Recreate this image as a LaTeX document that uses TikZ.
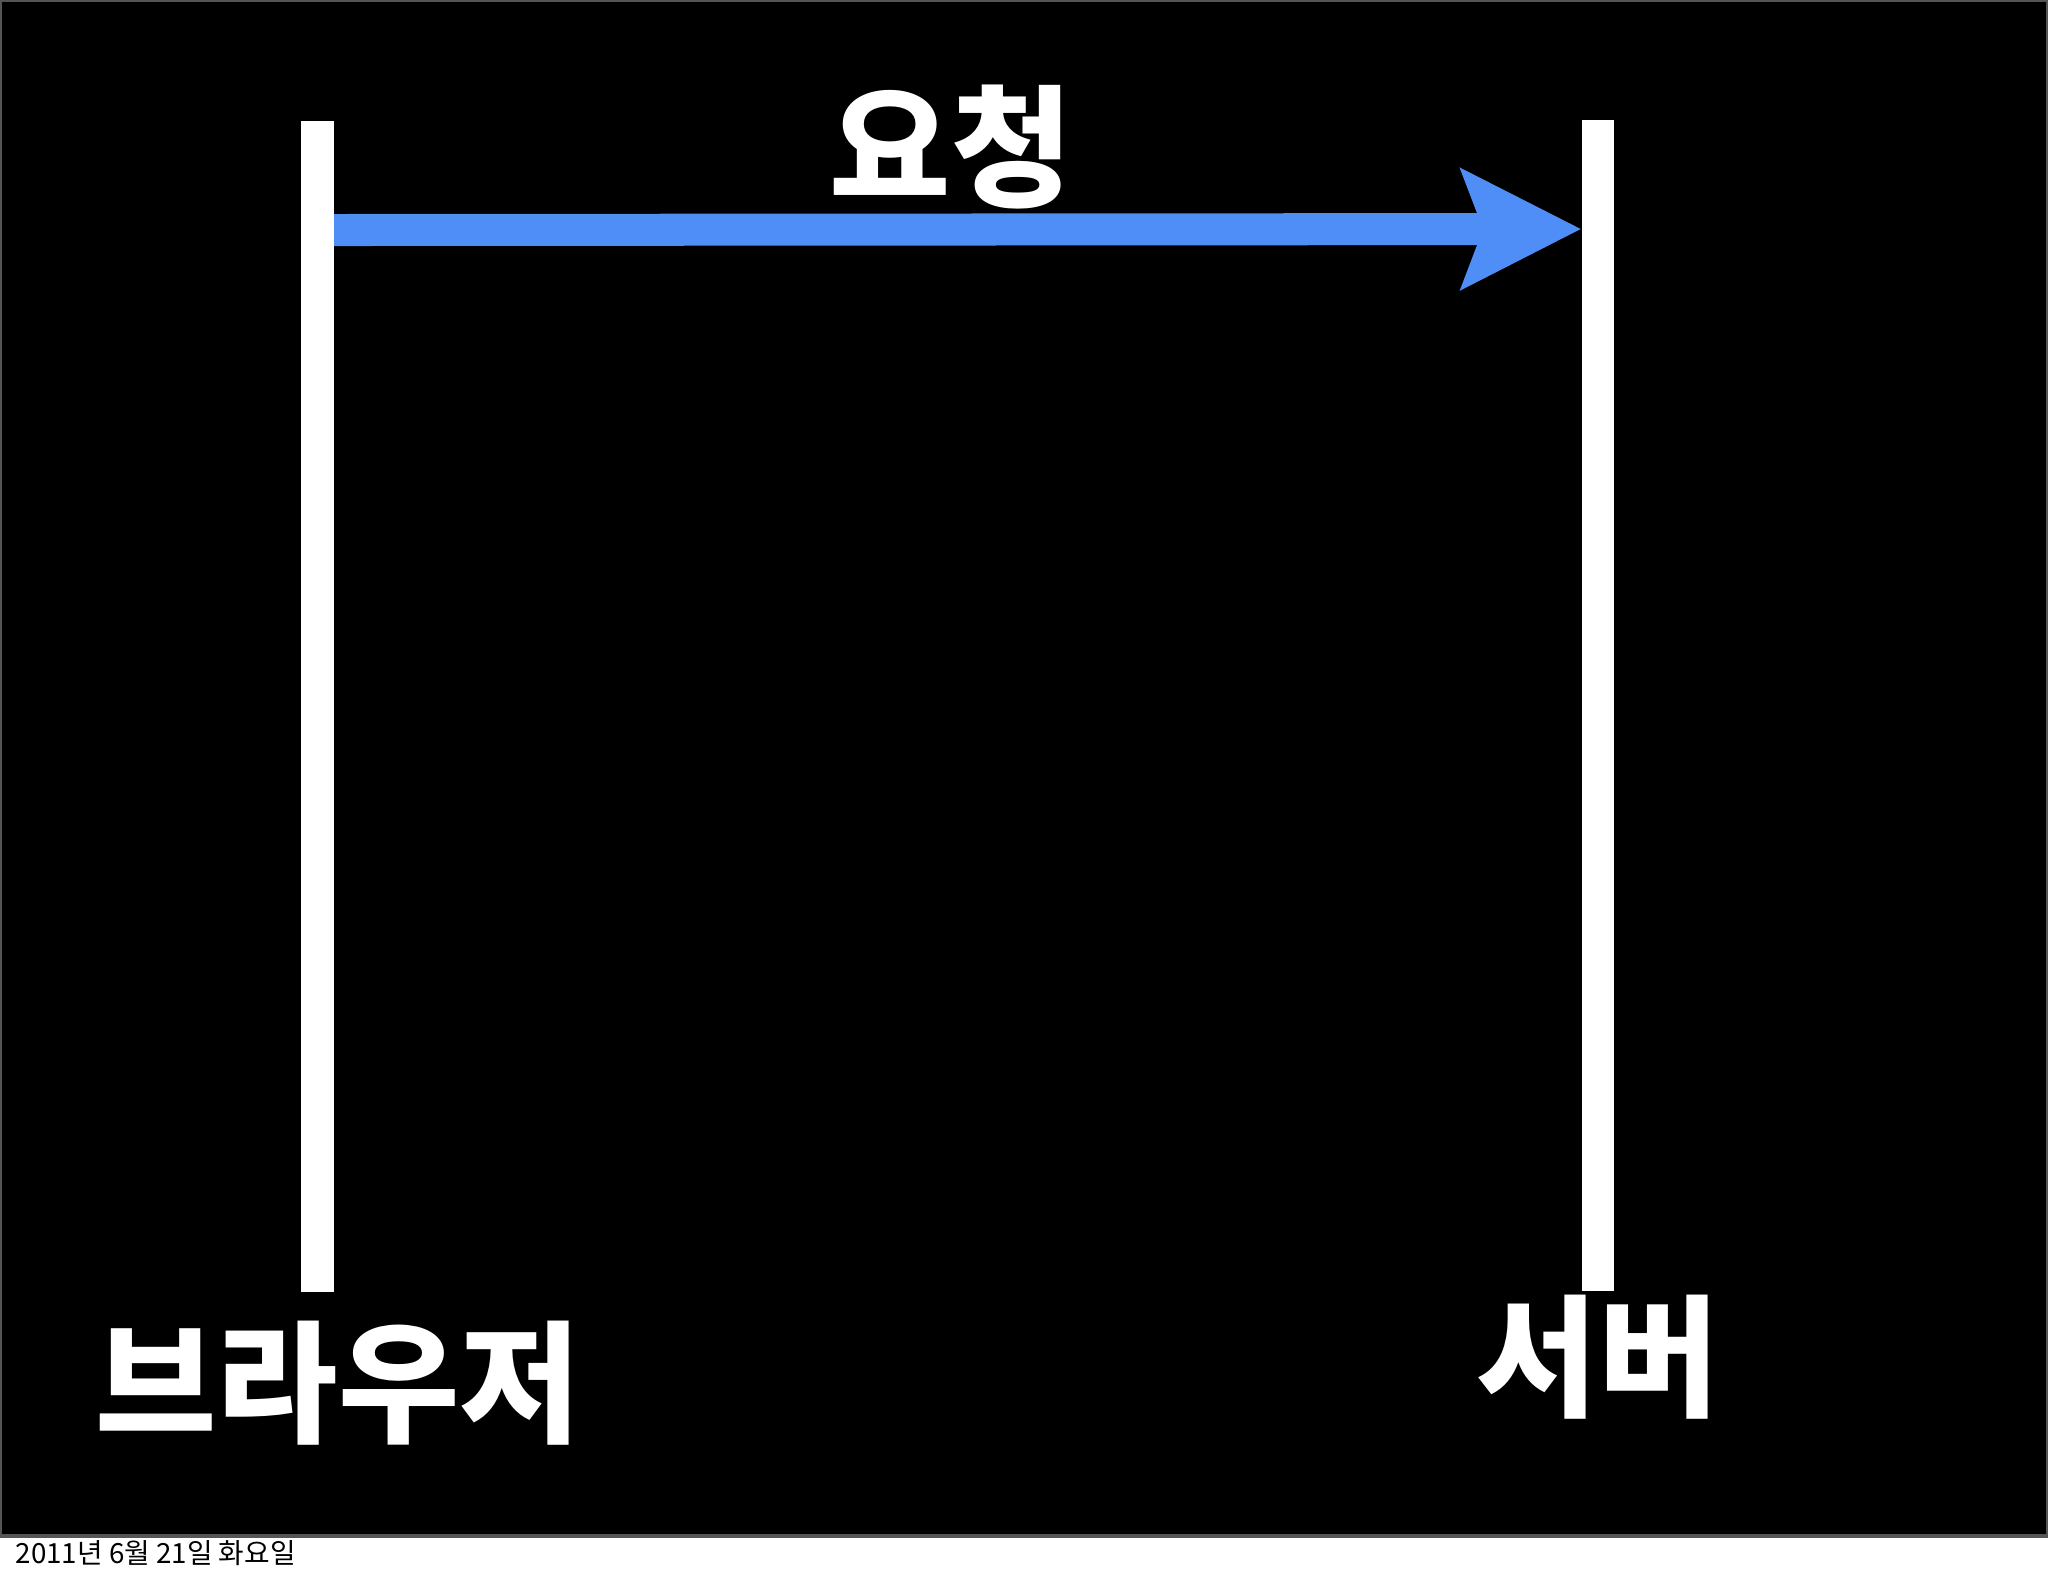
\documentclass[tikz,border=0pt]{standalone}
\usepackage{fontspec}
\newfontfamily\kr{Noto Sans CJK KR}
\usepackage{tikz}
\usetikzlibrary{arrows.meta,positioning}
\definecolor{reqblue}{RGB}{80,142,247}
\definecolor{frame}{RGB}{85,85,85}

\begin{document}
\begin{tikzpicture}[x=0.01cm,y=-0.01cm,
  life line/.style={rectangle,fill=white,inner sep=0pt,minimum width=0.32cm,minimum height=11.71cm},
  big label/.style={text=white,inner sep=0pt,font=\kr\bfseries\fontsize{37.5}{37.5}\selectfont},
  req/.style={reqblue,line width=0.32cm,-{Stealth[length=1.19cm,width=1.18cm,inset=0.21cm]}}]
\useasboundingbox (0,0) rectangle (2048,1576);
\fill[white] (0,0) rectangle (2048,1576);
\filldraw[fill=black,draw=frame,line width=1pt] (0,0) rectangle (2048,1536);
\node[life line] (browser line) at (317.5,706.5) {};
\node[life line] (server line) at (1598,705.5) {};
\node[big label] (browser) at (338,1383) {브라우저};
\node[big label] (server) at (1598,1357.5) {서버};
\node[big label] (request) at (951,147.5) {요청};
\draw[req] ([yshift=-1.1cm]browser line.north east) -- ([yshift=-1.1cm]server line.north west);
\node[anchor=base west,inner sep=0pt,font=\kr\fontsize{7.9}{7.9}\selectfont] (date) at (15,1563) {2011년 6월 21일 화요일};
\end{tikzpicture}
\end{document}
